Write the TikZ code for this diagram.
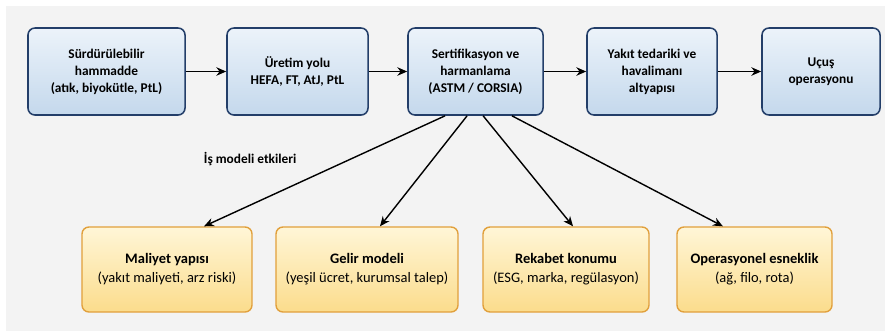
\documentclass[tikz,border=0pt]{standalone}
\usepackage{fontspec}
\setmainfont{Carlito}
\usepackage{xcolor}
\usetikzlibrary{arrows.meta, positioning}
\definecolor{bgpanel}{RGB}{243,243,243}
\definecolor{stageblue}{RGB}{35,62,105}
\definecolor{stagetop}{RGB}{236,243,250}
\definecolor{stagebot}{RGB}{196,216,236}
\definecolor{impactorange}{RGB}{225,160,60}
\definecolor{impacttop}{RGB}{255,246,215}
\definecolor{impactbot}{RGB}{251,220,140}

\begin{document}
\begin{tikzpicture}[
    x=0.025cm, y=-0.025cm,
    stage/.style={rectangle, rounded corners=5pt, minimum height=2.175cm, draw=stageblue, line width=1.1pt, top color=stagetop, bottom color=stagebot, align=center, font=\fontsize{9.5}{12}\selectfont\bfseries, inner sep=2pt},
    impact/.style={rectangle, rounded corners=5pt, minimum height=2.125cm, draw=impactorange, line width=1pt, top color=impacttop, bottom color=impactbot, align=center, font=\fontsize{10.3}{13.5}\selectfont, inner sep=2pt},
    flow/.style={-{Stealth[length=7pt, width=6pt]}, line width=1.3pt},
    effect/.style={-{Stealth[length=7pt, width=6pt]}, line width=1pt}
]

% background
\fill[white] (0,0) rectangle (891,331);
\fill[bgpanel] (6,6) rectangle (885,331);

% SAF value chain
\node[stage, minimum width=3.925cm] (feed) at (106.5,71.5) {S\"urd\"ur\"ulebilir\\hammadde\\(at\i k, biyok\"utle, PtL)};
\node[stage, minimum width=3.525cm] (route) at (297.5,71.5) {\"Uretim yolu\\HEFA, FT, AtJ, PtL};
\node[stage, minimum width=3.375cm] (cert) at (475.5,71.5) {Sertifikasyon ve\\harmanlama\\(ASTM / CORSIA)};
\node[stage, minimum width=3.25cm] (supply) at (652,71.5) {Yak\i t tedariki ve\\havaliman\i\\altyap\i s\i};
\node[stage, minimum width=2.95cm] (flight) at (821,71.5) {U\c cu\c s\\operasyonu};

\draw[flow] (feed) -- (route);
\draw[flow] (route) -- (cert);
\draw[flow] (cert) -- (supply);
\draw[flow] (supply) -- (flight);

% business model effects
\node[font=\fontsize{9.5}{11.5}\selectfont\bfseries, anchor=west] (label) at (199,159) {\.I\c s modeli etkileri};

\node[impact, minimum width=4.25cm] (cost) at (167,269.5) {\textbf{Maliyet yap\i s\i}\\(yak\i t maliyeti, arz riski)};
\node[impact, minimum width=4.55cm] (revenue) at (367,269.5) {\textbf{Gelir modeli}\\(ye\c sil \"ucret, kurumsal talep)};
\node[impact, minimum width=4.15cm] (compete) at (566,269.5) {\textbf{Rekabet konumu}\\(ESG, marka, reg\"ulasyon)};
\node[impact, minimum width=3.875cm] (flex) at (754.5,269.5) {\textbf{Operasyonel esneklik}\\(a\u{g}, filo, rota)};

\draw[effect] ([xshift=-0.76cm]cert.south) -- ([xshift=0.925cm]cost.north);
\draw[effect] ([xshift=-0.21cm]cert.south) -- ([xshift=0.325cm]revenue.north);
\draw[effect] ([xshift=0.19cm]cert.south) -- ([xshift=0.175cm]compete.north);
\draw[effect] ([xshift=0.91cm]cert.south) -- ([xshift=-0.79cm]flex.north);

\end{tikzpicture}
\end{document}
